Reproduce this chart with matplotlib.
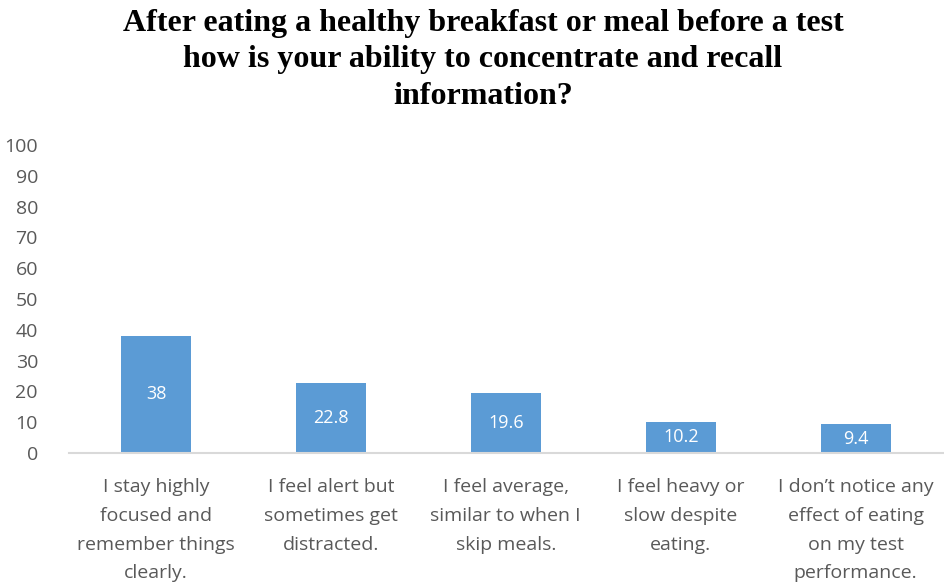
import matplotlib
matplotlib.use("Agg")
import matplotlib.pyplot as plt

title = ("After eating a healthy breakfast or meal before a test\n"
         "how is your ability to concentrate and recall\n"
         "information?")
categories = [
    "I stay highly\nfocused and\nremember things\nclearly.",
    "I feel alert but\nsometimes get\ndistracted.",
    "I feel average,\nsimilar to when I\nskip meals.",
    "I feel heavy or\nslow despite\neating.",
    "I don\u2019t notice any\neffect of eating\non my test\nperformance.",
]
values = [38, 22.8, 19.6, 10.2, 9.4]
value_labels = ["38", "22.8", "19.6", "10.2", "9.4"]
y_ticks = [0, 10, 20, 30, 40, 50, 60, 70, 80, 90, 100]

body_font = "Open Sans"

fig = plt.figure(figsize=(9.45, 5.84), dpi=100)
ax = fig.add_axes([0.0725, 0.2243, 0.9255, 0.5274])

x = list(range(len(categories)))
ax.bar(x, values, width=0.4, color="#5B9BD5", zorder=2)

for xi, v, lab in zip(x, values, value_labels):
    ax.text(xi, v / 2, lab, ha="center", va="center", color="white",
            fontsize=13, family=body_font)

ax.set_xlim(-0.5, len(categories) - 0.5)
ax.set_ylim(0, 100)
ax.set_yticks(y_ticks)
ax.set_yticklabels([str(t) for t in y_ticks], fontsize=14, color="#595959",
                   family=body_font)
ax.set_xticks(x)
ax.set_xticklabels(categories, fontsize=14, color="#595959", family=body_font,
                   linespacing=1.77, va="top")
ax.tick_params(axis="both", length=0)
ax.tick_params(axis="x", pad=18)
ax.tick_params(axis="y", pad=22)

for s in ("top", "right", "left"):
    ax.spines[s].set_visible(False)
ax.spines["bottom"].set_color("#d9d9d9")
ax.spines["bottom"].set_linewidth(1.5)

fig.text(0.511, 0.985, title, ha="center", va="top", fontsize=23,
         fontweight="bold", family="Liberation Serif", linespacing=1.35)

fig.savefig("out.png", dpi=100)
